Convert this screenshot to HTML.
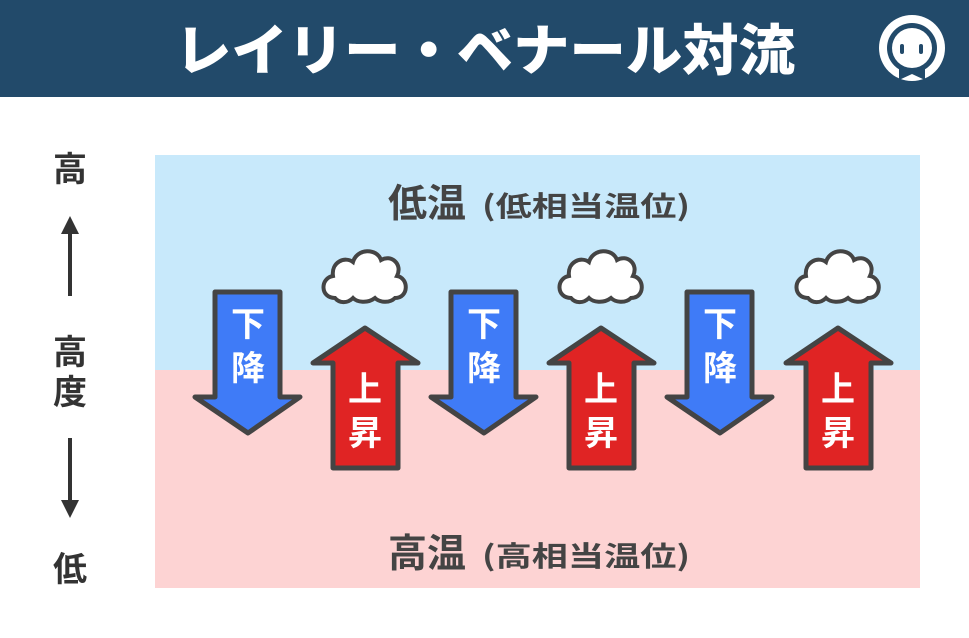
<!DOCTYPE html>
<html><head><meta charset="utf-8"><style>
body{margin:0;width:969px;height:638px;background:#fff;overflow:hidden;font-family:"Liberation Sans","Noto Sans CJK JP",sans-serif}
</style></head><body>
<svg width="969" height="638" xmlns="http://www.w3.org/2000/svg" style="position:absolute;left:0;top:0">
<defs>
<g id="down"><path d="M-33,0 H32 V105 H52 L0,141 L-53,105 H-33 Z" fill="#3f7bf7" stroke="#444" stroke-width="5" stroke-linejoin="round"/>
<text x="0" y="44" font-size="34" font-weight="bold" fill="#fff" text-anchor="middle" font-family="Noto Sans CJK JP,sans-serif">下</text>
<text x="0" y="88" font-size="34" font-weight="bold" fill="#fff" text-anchor="middle" font-family="Noto Sans CJK JP,sans-serif">降</text></g>
<g id="up"><path d="M0,0 L53,35 H33 V140 H-32 V35 H-52 Z" fill="#e02424" stroke="#444" stroke-width="5" stroke-linejoin="round"/>
<text x="0" y="73" font-size="34" font-weight="bold" fill="#fff" text-anchor="middle" font-family="Noto Sans CJK JP,sans-serif">上</text>
<text x="0" y="117" font-size="34" font-weight="bold" fill="#fff" text-anchor="middle" font-family="Noto Sans CJK JP,sans-serif">昇</text></g>
<g id="cloud"><path d="M-30,28 C-45,28 -45,8 -32,6 C-34,-8 -20,-14 -12,-8 C-8,-22 12,-22 16,-10 C26,-16 38,-6 32,6 C44,8 44,28 30,28 C24,34 14,32 10,28 C2,34 -8,32 -12,28 C-18,34 -26,33 -30,28 Z" fill="#fff" stroke="#444" stroke-width="4"/></g>
</defs>
<rect x="0" y="0" width="969" height="97" fill="#224a6a"/>
<text x="485" y="70" font-size="55" font-weight="900" fill="#fff" text-anchor="middle" font-family="Noto Sans CJK JP,sans-serif" textLength="620" lengthAdjust="spacingAndGlyphs">レイリー・ベナール対流</text>
<circle cx="912" cy="48" r="33" fill="#fff"/>
<circle cx="912" cy="48" r="25" fill="#224a6a"/>
<circle cx="912" cy="48" r="20" fill="#fff"/>
<rect x="900" y="44" width="4" height="10" rx="2" fill="#224a6a"/>
<rect x="919" y="44" width="4" height="10" rx="2" fill="#224a6a"/>
<path d="M899,66 L912,72 L925,66 L925,80 L912,74 L899,80 Z" fill="#224a6a"/>
<rect x="155" y="155" width="765" height="215" fill="#c8e9fb"/>
<rect x="155" y="370" width="765" height="218" fill="#fdd3d3"/>
<text x="388" y="217" font-size="39" font-weight="bold" fill="#444" font-family="Noto Sans CJK JP,sans-serif">低温</text>
<text x="482" y="216" font-size="28" font-weight="bold" fill="#444" font-family="Noto Sans CJK JP,sans-serif" textLength="208" lengthAdjust="spacingAndGlyphs">(低相当温位)</text>
<text x="388" y="567" font-size="39" font-weight="bold" fill="#444" font-family="Noto Sans CJK JP,sans-serif">高温</text>
<text x="482" y="566" font-size="28" font-weight="bold" fill="#444" font-family="Noto Sans CJK JP,sans-serif" textLength="208" lengthAdjust="spacingAndGlyphs">(高相当温位)</text>
<use href="#cloud" x="365" y="270"/><use href="#cloud" x="601" y="270"/><use href="#cloud" x="838" y="270"/>
<use href="#down" x="248" y="292"/><use href="#down" x="484" y="292"/><use href="#down" x="720" y="292"/>
<use href="#up" x="365" y="328"/><use href="#up" x="601" y="328"/><use href="#up" x="838" y="328"/>
<g fill="#333" font-size="34" font-weight="bold" font-family="Noto Sans CJK JP,sans-serif" text-anchor="middle">
<text x="70" y="181">高</text><text x="70" y="364">高</text><text x="70" y="404">度</text><text x="70" y="581">低</text></g>
<line x1="70" y1="228" x2="70" y2="296" stroke="#333" stroke-width="4"/>
<path d="M61,234 L70,216 L79,234 Z" fill="#333"/>
<line x1="70" y1="438" x2="70" y2="506" stroke="#333" stroke-width="4"/>
<path d="M61,500 L70,518 L79,500 Z" fill="#333"/>
</svg>
</body></html>
